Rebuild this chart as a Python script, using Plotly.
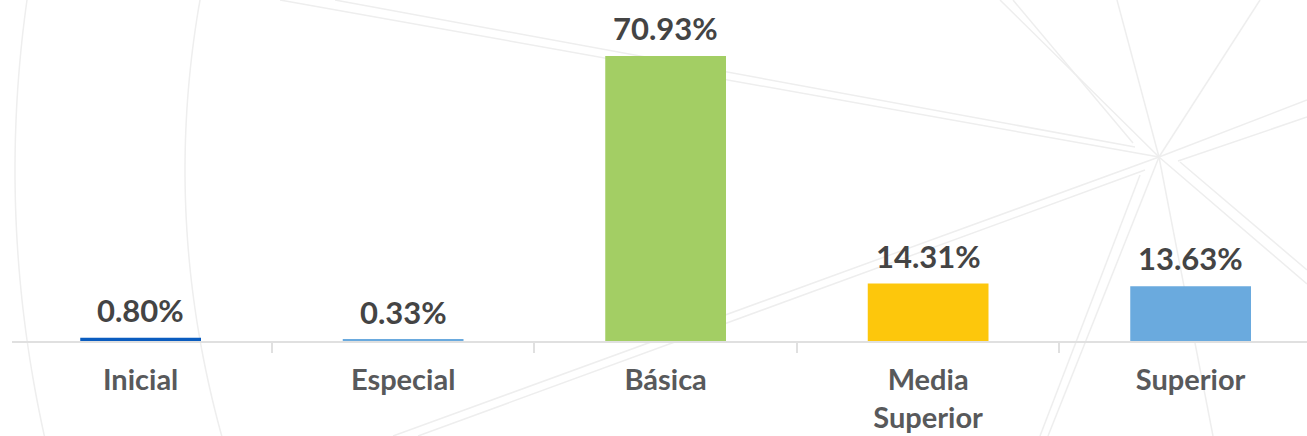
import plotly.graph_objects as go

categories = ["Inicial", "Especial", "Básica", "Media<br>Superior", "Superior"]
values = [0.80, 0.33, 70.93, 14.31, 13.63]
value_labels = ["0.80%", "0.33%", "70.93%", "14.31%", "13.63%"]
bar_colors = ["#0a5cbf", "#6aaade", "#a3ce64", "#fdc70c", "#6aaade"]

W, H = 1307, 436
ML, MR, MT, MB = 12, 0, 0, 95
pw = W - ML - MR
ph = H - MT - MB

fig = go.Figure()
fig.add_trace(go.Bar(
    x=categories, y=values,
    marker=dict(color=bar_colors, line=dict(width=0)),
    width=0.46, hoverinfo="skip",
))

for c, v, t in zip(categories, values, value_labels):
    fig.add_annotation(x=c, y=v, text=t, showarrow=False, yanchor="bottom",
                       yshift=7, font=dict(family="Lato", size=31, color="#444444", weight="bold"))

# decorative faint background lines (pixel -> paper)
def px(x, y):
    return (x - ML) / pw, (H - MB - y) / ph

cx, cy = 1159, 157
segs = [
    ((cx, cy), (1000, 0)), ((1133, 143), (1013, 0)), ((cx, cy), (1117, 0)), ((cx, cy), (1260, 0)),
    ((cx, cy), (1307, 100)), ((1178, 161), (1307, 117)),
    ((cx, cy), (280, 0)), ((1135, 147), (335, 0)),
    ((cx, cy), (393, 436)), ((1145, 170), (418, 436)),
    ((cx, cy), (1048, 436)), ((1140, 175), (1040, 436)),
    ((cx, cy), (1213, 436)),
    ((cx, cy), (1307, 284)), ((1180, 162), (1307, 270)),
]
shapes = []
for (sx, sy), (ex, ey) in segs:
    x0, y0 = px(sx, sy)
    x1, y1 = px(ex, ey)
    shapes.append(dict(type="line", xref="paper", yref="paper", x0=x0, y0=y0, x1=x1, y1=y1,
                       line=dict(color="#eeeeee", width=1.5), layer="below"))

for xmin, k in [(15, 12 / 28900), (185, 15 / 28900)]:
    pts = []
    for yy in range(-10, 450, 10):
        xx = xmin + k * (yy - 170) ** 2
        a, b = px(xx, yy)
        pts.append(f"{a},{b}")
    path = "M " + " L ".join(pts)
    shapes.append(dict(type="path", xref="paper", yref="paper", path=path,
                       line=dict(color="#eeeeee", width=1.5), layer="below"))

fig.update_layout(
    width=W, height=H,
    margin=dict(l=ML, r=MR, t=MT, b=MB),
    paper_bgcolor="white", plot_bgcolor="rgba(0,0,0,0)",
    showlegend=False,
    shapes=shapes,
    xaxis=dict(
        type="category", tickson="boundaries", automargin=False,
        range=[-0.49, -0.49 + pw / 262.5],
        showline=True, linecolor="#e0e0e0", linewidth=2,
        ticks="outside", ticklen=10, tickcolor="#e0e0e0", tickwidth=2,
        showgrid=False, zeroline=False,
        tickfont=dict(family="Lato", size=29, color="#58595b", weight="bold"),
        ticklabelstandoff=12,
        layer="below traces",
    ),
    yaxis=dict(range=[0, ph / 4.018], visible=False, showgrid=False, zeroline=False,
               automargin=False),
)

fig.write_html("out.html", config={"displayModeBar": False},
               post_script="document.body.style.margin='0';")
